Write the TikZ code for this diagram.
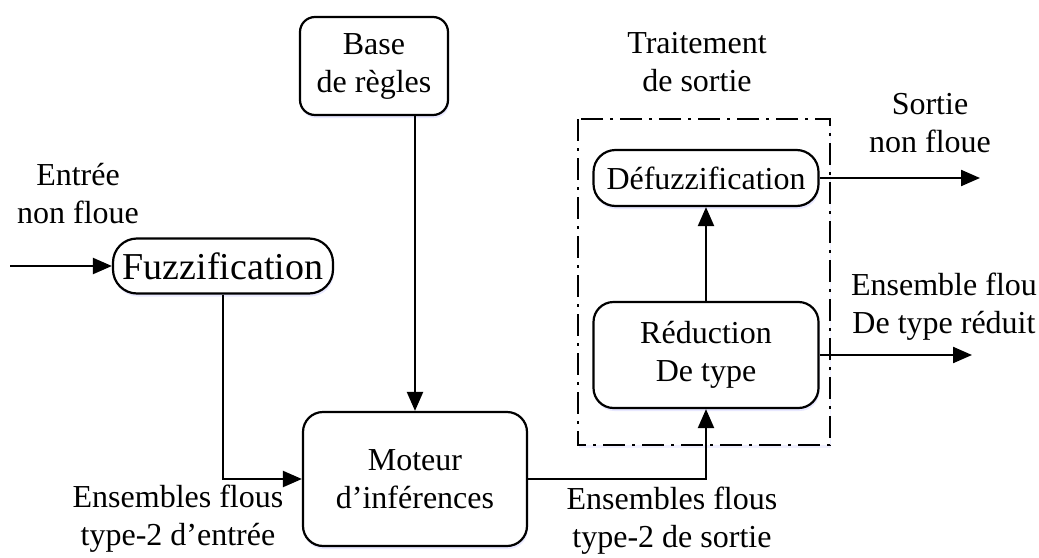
\documentclass[tikz,border=0pt]{standalone}
\usepackage{fontspec}
\setmainfont{Liberation Serif}
\usetikzlibrary{arrows.meta,positioning,shadows}

\begin{document}
\begin{tikzpicture}[x=1pt,y=-1pt,
    txt/.style={font=\fontsize{32}{38}\selectfont},
    blok/.style={draw,line width=2.2pt,fill=white,txt,align=center,inner sep=0pt,
      drop shadow={shadow xshift=1pt,shadow yshift=-3pt,fill=blue!25,opacity=0.35}},
    lbl/.style={txt,align=center,inner sep=0pt,anchor=base},
    arr/.style={line width=2.2pt,-{Triangle[length=19pt,width=16pt]}}]

    \useasboundingbox (0,0) rectangle (1039,557);

    % traitement de sortie
    \draw[line width=2.2pt,fill=white,dash pattern=on 22pt off 7pt on 3pt off 7pt,
      drop shadow={shadow xshift=1pt,shadow yshift=-3pt,fill=blue!20,opacity=0.3}]
      (578,119) rectangle (830,445);

    \node[blok,rounded corners=15pt,minimum width=148pt,minimum height=98pt] (base) at (374,66) {Base\\de règles};
    \node[blok,rounded corners=24pt,minimum width=220pt,minimum height=55pt,font=\fontsize{38}{44}\selectfont] (fuzz) at (223,266) {Fuzzification};
    \node[blok,rounded corners=20pt,minimum width=224pt,minimum height=134pt] (moteur) at (415,479) {Moteur\\d’inférences};
    \node[blok,rounded corners=22pt,minimum width=225pt,minimum height=56pt] (defuzz) at (706,178) {Défuzzification};
    \node[blok,rounded corners=20pt,minimum width=225pt,minimum height=106pt] (reduc) at (706,355) {Réduction\\De type};

    % base = ligne du bas
    \node[lbl] (entree) at (78,223) {Entrée\\non floue};
    \node[lbl] (traitement) at (697,91) {Traitement\\de sortie};
    \node[lbl] (sortie) at (930,152) {Sortie\\non floue};
    \node[lbl] (reduit) at (944,333) {Ensemble flou\\De type réduit};
    \node[lbl] (ensin) at (178,545) {Ensembles flous\\type-2 d’entrée};
    \node[lbl] (ensout) at (672,547) {Ensembles flous\\type-2 de sortie};

    \coordinate (in) at (10,266);
    \coordinate (out1) at (980,178);
    \coordinate (out2) at (972,355);

    \draw[arr] (in) -- (fuzz.west);
    \draw[arr] (fuzz.south) |- (moteur.west);
    \draw[arr] (base.south -| moteur.north) -- (moteur.north);
    \draw[arr] (moteur.east) -| (reduc.south);
    \draw[arr] (reduc.north) -- (defuzz.south);
    \draw[arr] (defuzz.east) -- (out1);
    \draw[arr] (reduc.east) -- (out2);

\end{tikzpicture}
\end{document}
